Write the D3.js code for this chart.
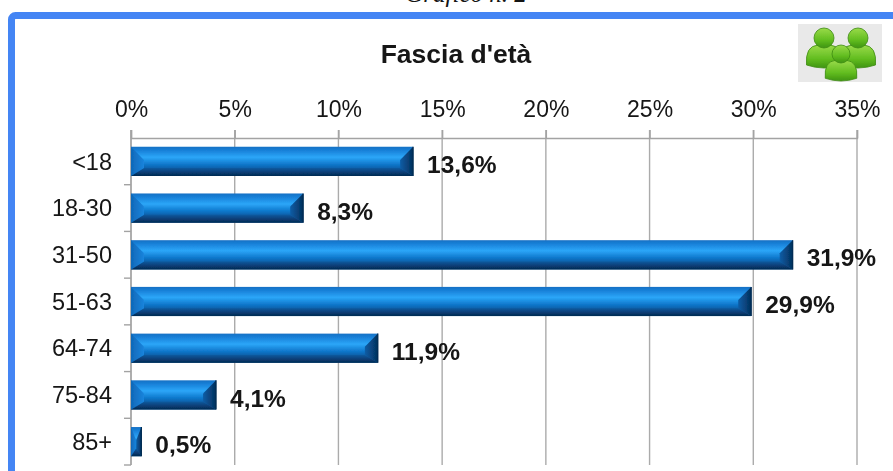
<!DOCTYPE html>
<html>
<head>
<meta charset="utf-8">
<script src="https://cdn.jsdelivr.net/npm/d3@7"></script>
<style>
  html, body { margin: 0; padding: 0; background: #fff; overflow: hidden; }
  text { font-family: "Liberation Sans", Arial, sans-serif; fill: #141414; }
</style>
</head>
<body>
<div id="graph"></div>
<script>
var categories = ["<18", "18-30", "31-50", "51-63", "64-74", "75-84", "85+"];
var values = [13.6, 8.3, 31.9, 29.9, 11.9, 4.1, 0.5];
var valueLabels = ["13,6%", "8,3%", "31,9%", "29,9%", "11,9%", "4,1%", "0,5%"];
var tickValues = [0, 5, 10, 15, 20, 25, 30, 35];

var w = 893, h = 471;

var svg = d3.select("#graph")
    .append("svg")
    .attr("width", w)
    .attr("height", h)
    .style("display", "block");

var defs = svg.append("defs");

defs.append("filter").attr("id", "soft")
    .append("feGaussianBlur").attr("stdDeviation", 0.45);

function gradient(id, x2, y2, stops) {
    var g = defs.append("linearGradient").attr("id", id)
        .attr("x1", 0).attr("y1", 0).attr("x2", x2).attr("y2", y2);
    stops.forEach(function(s) {
        g.append("stop").attr("offset", s[0]).attr("stop-color", s[1]);
    });
}
gradient("faceGrad", 0, 1, [[0, "#1570c4"], [0.15, "#1a84dc"], [0.36, "#2ca6f8"], [0.6, "#0f78cc"], [0.75, "#0b5fa8"], [1, "#0a4f8f"]]);
gradient("bottomGrad", 0, 1, [[0, "#0b5a9f"], [0.5, "#083f78"], [1, "#052a52"]]);
gradient("rightGrad", 1, 0, [[0, "#0c5da6"], [1, "#04305c"]]);
gradient("leftGrad", 1, 0, [[0, "#0f68b8"], [1, "#1a84dc"]]);
gradient("personGrad", 0, 1, [[0, "#9adb4a"], [0.6, "#62bd20"], [1, "#3f9410"]]);

// title above the frame, cut by the top of the picture
svg.append("text")
    .attr("x", 466)
    .attr("y", 2)
    .attr("text-anchor", "middle")
    .attr("font-size", 25)
    .attr("font-style", "italic")
    .style("font-family", "Liberation Serif")
    .text("Grafico n. 2");

// blue frame, runs off the right and bottom edges
svg.append("rect")
    .attr("x", 11.5)
    .attr("y", 15.5)
    .attr("width", 900)
    .attr("height", 500)
    .attr("rx", 4)
    .attr("fill", "#fff")
    .attr("stroke", "#4485f4")
    .attr("stroke-width", 7);

var chart = svg.append("g").attr("filter", "url(#soft)");

var x = d3.scaleLinear().domain([0, 35]).range([131, 857]);
var y = d3.scaleBand().domain(categories).range([138, 465]).paddingInner(0.375).paddingOuter(0.1875);

chart.append("text")
    .attr("x", 456)
    .attr("y", 63)
    .attr("text-anchor", "middle")
    .attr("font-size", 26.5)
    .attr("font-weight", "bold")
    .text("Fascia d'età");

// gridlines
chart.selectAll("line.grid")
    .data(tickValues)
    .enter().append("line")
    .attr("class", "grid")
    .attr("x1", function(d) { return x(d); })
    .attr("x2", function(d) { return x(d); })
    .attr("y1", 130)
    .attr("y2", 465)
    .attr("stroke", function(d) { return d == 0 ? "#8c8c8c" : "#ababab"; })
    .attr("stroke-width", 1.4);

// top axis
var xAxis = d3.axisTop(x)
    .tickValues(tickValues)
    .tickFormat(function(d) { return d + "%"; })
    .tickSize(8)
    .tickPadding(13);

var xg = chart.append("g")
    .attr("transform", "translate(0,138)")
    .call(xAxis);
xg.select(".domain").attr("stroke", "#a3a3a3").attr("stroke-width", 1.4);
xg.selectAll(".tick line").attr("stroke", "#a3a3a3").attr("stroke-width", 1.4);
xg.selectAll("text").attr("font-size", 23).attr("font-family", "Liberation Sans").attr("fill", "#141414");

// left axis: ticks sit between the categories
var step = y.step();
chart.selectAll("line.cattick")
    .data(categories)
    .enter().append("line")
    .attr("class", "cattick")
    .attr("x1", x(0) - 7)
    .attr("x2", x(0))
    .attr("y1", function(d) { return y(d) + y.bandwidth() / 2 + step / 2; })
    .attr("y2", function(d) { return y(d) + y.bandwidth() / 2 + step / 2; })
    .attr("stroke", "#a3a3a3")
    .attr("stroke-width", 1.4);

chart.selectAll("text.cat")
    .data(categories)
    .enter().append("text")
    .attr("class", "cat")
    .attr("x", x(0) - 19)
    .attr("y", function(d) { return y(d) + y.bandwidth() / 2; })
    .attr("dy", "0.35em")
    .attr("text-anchor", "end")
    .attr("font-size", 23.5)
    .text(function(d) { return d; });

// bevelled bars
var bars = chart.selectAll("g.bar")
    .data(values)
    .enter().append("g")
    .attr("class", "bar")
    .attr("transform", function(d, i) { return "translate(" + x(0) + "," + y(categories[i]) + ")"; });

function bevel(d) {
    var bw = x(d) - x(0);
    var bh = y.bandwidth();
    return { bw: bw, bh: bh, b: Math.min(13, bw / 2), t: bh * 0.45, u: bh * 0.27 };
}

bars.append("rect")
    .attr("width", function(d) { return bevel(d).bw; })
    .attr("height", y.bandwidth())
    .attr("fill", "url(#faceGrad)");

// bottom edge
bars.append("path")
    .attr("fill", "url(#bottomGrad)")
    .attr("d", function(d) {
        var s = bevel(d);
        return d3.line()([[0, s.bh], [s.bw, s.bh], [s.bw - s.b, s.bh - s.u], [s.b, s.bh - s.u]]) + "Z";
    });

// right edge, close to a triangle
bars.append("path")
    .attr("fill", "url(#rightGrad)")
    .attr("d", function(d) {
        var s = bevel(d);
        return d3.line()([[s.bw, 0], [s.bw, s.bh], [s.bw - s.b, s.bh - s.u], [s.bw - s.b, s.t]]) + "Z";
    });

// left edge, close to a triangle
bars.append("path")
    .attr("fill", "url(#leftGrad)")
    .attr("d", function(d) {
        var s = bevel(d);
        return d3.line()([[0, 0], [0, s.bh], [s.b, s.bh - s.u], [s.b, s.t]]) + "Z";
    });

bars.append("line")
    .attr("x1", function(d) { return bevel(d).bw; })
    .attr("x2", function(d) { return bevel(d).bw; })
    .attr("y1", 0)
    .attr("y2", y.bandwidth())
    .attr("stroke", "#042a50")
    .attr("stroke-width", 1.2);

// value labels
chart.selectAll("text.val")
    .data(values)
    .enter().append("text")
    .attr("class", "val")
    .attr("x", function(d) { return x(d) + 14; })
    .attr("y", function(d, i) { return y(categories[i]) + y.bandwidth() / 2 + 3; })
    .attr("dy", "0.35em")
    .attr("font-size", 24.5)
    .attr("font-weight", "bold")
    .text(function(d, i) { return valueLabels[i]; });

// people icon top right
var icon = chart.append("g");
icon.append("rect")
    .attr("x", 798)
    .attr("y", 24)
    .attr("width", 84)
    .attr("height", 58)
    .attr("fill", "#e9e9e9");

function person(cx, cy, r) {
    var g = icon.append("g").attr("transform", "translate(" + cx + "," + cy + ")");
    g.append("path")
        .attr("d", "M" + (-r * 1.75) + "," + (r * 2.7) +
            " Q" + (-r * 1.9) + "," + (r * 0.8) + " " + (-r * 0.6) + "," + (r * 0.7) +
            " L" + (r * 0.6) + "," + (r * 0.7) +
            " Q" + (r * 1.9) + "," + (r * 0.8) + " " + (r * 1.75) + "," + (r * 2.7) +
            " Q0," + (r * 3.3) + " " + (-r * 1.75) + "," + (r * 2.7) + "Z")
        .attr("fill", "url(#personGrad)")
        .attr("stroke", "#3c8a12")
        .attr("stroke-width", 0.8);
    g.append("circle")
        .attr("r", r)
        .attr("fill", "url(#personGrad)")
        .attr("stroke", "#3c8a12")
        .attr("stroke-width", 0.8);
}
person(824, 38, 10);
person(858, 38, 10);
person(841, 54, 9);
</script>
</body>
</html>
